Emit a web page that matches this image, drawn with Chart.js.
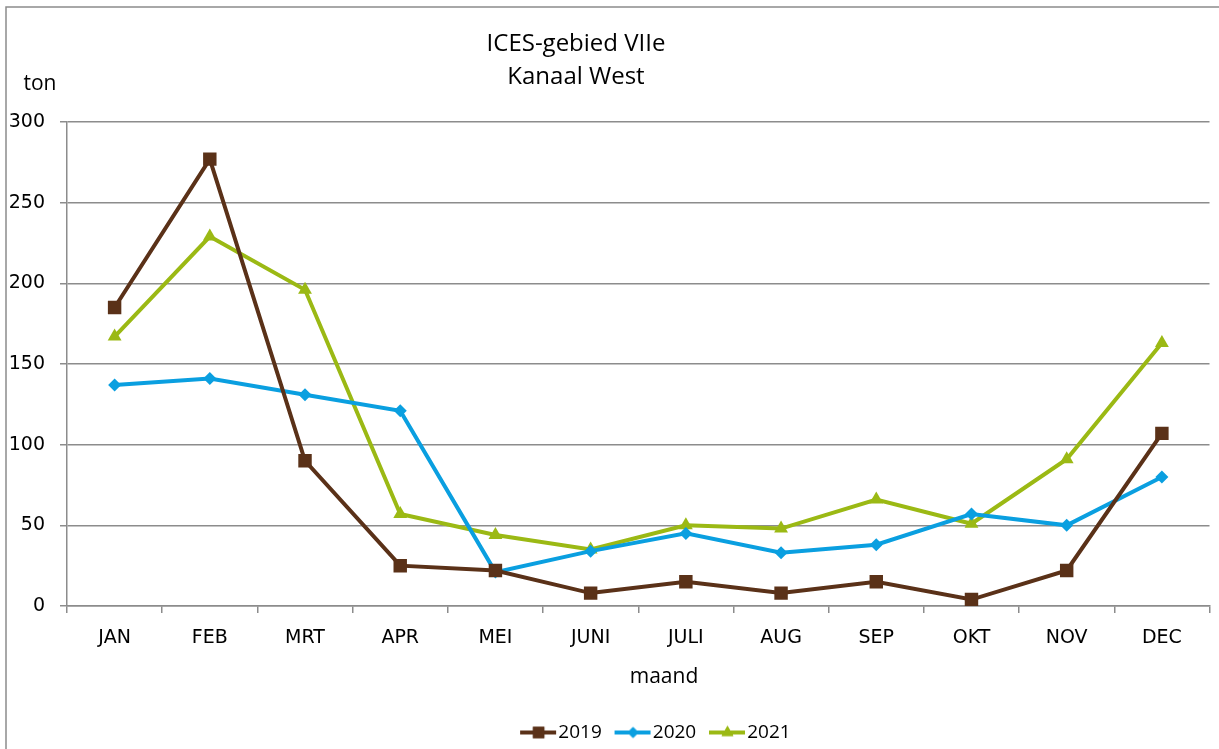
<!DOCTYPE html>
<html>
<head>
<meta charset="utf-8">
<script src="https://cdn.jsdelivr.net/npm/chart.js@4"></script>
<style>
  html, body { margin: 0; padding: 0; background: #fff; }
  #wrap { width: 1219px; height: 749px; }
</style>
</head>
<body>
<div id="wrap"><canvas id="chart"></canvas></div>
<script>
// monthly catch in tons, ICES VIIe
var months = ['JAN', 'FEB', 'MRT', 'APR', 'MEI', 'JUNI', 'JULI', 'AUG', 'SEP', 'OKT', 'NOV', 'DEC'];
var values2019 = [185, 277, 90, 25, 22, 8, 15, 8, 15, 4, 22, 107];
var values2020 = [137, 141, 131, 121, 21, 34, 45, 33, 38, 57, 50, 80];
var values2021 = [167, 229, 196, 57, 44, 35, 50, 48, 66, 51, 91, 163];
var yTicks = [0, 50, 100, 150, 200, 250, 300];

var titleLines = ['ICES-gebied VIIe', 'Kanaal West'];
var yTitle = 'ton';
var xTitle = 'maand';

var BROWN = '#5a3118';
var BLUE = '#0a9fe0';
var GREEN = '#9bb914';
var GRID = '#8c8c8c';
var SANS = '"Open Sans", sans-serif';
var TICKFONT = '"DejaVu Sans", Verdana, sans-serif';

// line+marker icon for the legend, line drawn on the right part of the canvas
function legendIcon(color, style, radius){
    var c = document.createElement('canvas');
    c.width = 60; c.height = 22;
    var ctx = c.getContext('2d');
    ctx.strokeStyle = color;
    ctx.lineWidth = 4;
    ctx.beginPath();
    ctx.moveTo(22, 11); ctx.lineTo(58, 11);
    ctx.stroke();
    ctx.fillStyle = color;
    Chart.helpers.drawPoint(ctx, {pointStyle: style, radius: radius, borderWidth: 0}, 40.5, 11);
    ctx.fill();
    return c;
}

var series = [
    {label: '2019', data: values2019, color: BROWN, style: 'rect', radius: 9.5, width: 4},
    {label: '2020', data: values2020, color: BLUE, style: 'rectRot', radius: 6.5, width: 4},
    {label: '2021', data: values2021, color: GREEN, style: 'triangle', radius: 8, width: 4}
];

var datasets = series.map(function(s){
    return {
        label: s.label,
        data: s.data,
        borderColor: s.color,
        backgroundColor: s.color,
        borderWidth: s.width,
        pointStyle: s.style,
        pointRadius: s.radius,
        pointHoverRadius: s.radius,
        pointBorderWidth: 0,
        pointBackgroundColor: s.color,
        tension: 0
    };
});

// frame, free-standing texts and legend nudge
var decorations = {
    id: 'decorations',
    afterLayout: function(chart){
        var lg = chart.legend;
        if (lg) {
            lg.left += 35; lg.right += 35;
            lg.top += 5; lg.bottom += 5;
        }
    },
    beforeDraw: function(chart){
        var ctx = chart.ctx;
        ctx.save();
        ctx.strokeStyle = GRID;
        ctx.lineWidth = 1.5;
        ctx.beginPath();
        ctx.moveTo(6, 749); ctx.lineTo(6, 7); ctx.lineTo(1219, 7);
        ctx.stroke();
        ctx.restore();
    },
    afterDraw: function(chart){
        var ctx = chart.ctx;
        ctx.save();
        ctx.fillStyle = '#000';
        ctx.textAlign = 'center';
        ctx.textBaseline = 'middle';
        ctx.font = '24px ' + SANS;
        ctx.fillText(titleLines[0], 576, 44);
        ctx.fillText(titleLines[1], 576, 77);
        ctx.font = '21px ' + SANS;
        ctx.fillText(yTitle, 40, 84);
        ctx.fillText(xTitle, 664, 677);
        ctx.restore();
    }
};

new Chart(document.getElementById('chart'), {
    type: 'line',
    data: {labels: months, datasets: datasets},
    options: {
        responsive: true,
        maintainAspectRatio: false,
        animation: false,
        layout: {padding: {left: 9, top: 122, right: 0, bottom: 2}},
        plugins: {
            title: {display: false},
            tooltip: {enabled: false},
            legend: {
                position: 'bottom',
                labels: {
                    usePointStyle: true,
                    pointStyleWidth: 41.5,
                    color: '#000',
                    font: {family: SANS, size: 19},
                    padding: 0,
                    boxHeight: 20,
                    generateLabels: function(chart){
                        return series.map(function(s, i){
                            return {
                                text: s.label,
                                fillStyle: s.color,
                                strokeStyle: s.color,
                                lineWidth: 0,
                                pointStyle: legendIcon(s.color, s.style, s.radius * 0.85),
                                datasetIndex: i,
                                hidden: false,
                                fontColor: '#000'
                            };
                        });
                    }
                }
            }
        },
        scales: {
            x: {
                offset: true,
                afterFit: function(axis){ axis.height = 112; },
                grid: {offset: true, drawOnChartArea: false, color: GRID, lineWidth: 1.5, tickLength: 7},
                border: {color: GRID, width: 1.5},
                ticks: {color: '#000', font: {family: TICKFONT, size: 19}, padding: 14, maxRotation: 0}
            },
            y: {
                min: 0,
                max: 300,
                afterFit: function(axis){ axis.width = 58; },
                afterBuildTicks: function(axis){
                    axis.ticks = yTicks.map(function(v){ return {value: v}; });
                },
                grid: {color: GRID, lineWidth: 1.5, tickLength: 7},
                border: {color: GRID, width: 1.5},
                ticks: {color: '#000', font: {family: TICKFONT, size: 19}, padding: 15}
            }
        }
    },
    plugins: [decorations]
});
</script>
</body>
</html>
